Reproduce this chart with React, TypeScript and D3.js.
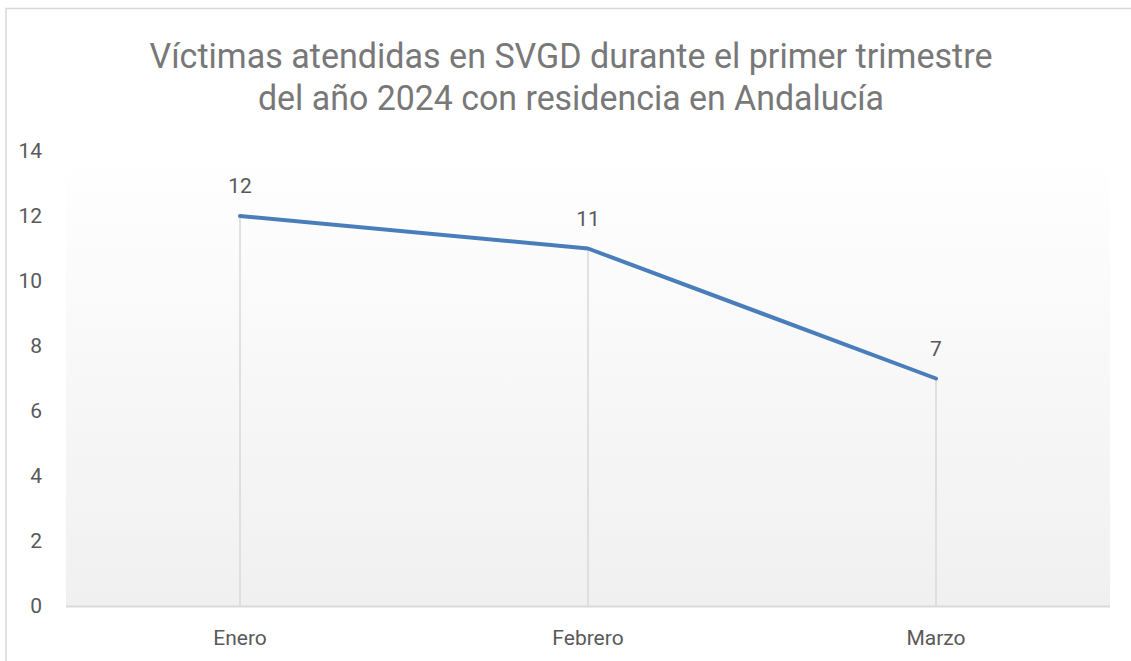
import React from "react";
import * as d3 from "d3";

const categories = ["Enero", "Febrero", "Marzo"];
const values = [12, 11, 7];
const yTicks = [0, 2, 4, 6, 8, 10, 12, 14];
const titleLines = [
  "Víctimas atendidas en SVGD durante el primer trimestre",
  "del año 2024 con residencia en Andalucía",
];
const titleWidths = [843, 626];

export default function App() {
  const W = 1131;
  const H = 661;
  const left = 66, right = 1110, top = 151, bottom = 606;
  const x = d3.scaleBand<string>().domain(categories).range([left, right]);
  const y = d3.scaleLinear().domain([0, 14]).range([bottom, top]);
  const cx = (c: string) => (x(c) as number) + x.bandwidth() / 2;
  const line = d3
    .line<number>()
    .x((_, i) => cx(categories[i]))
    .y((d) => y(d));
  const font = "Roboto, 'Noto Sans', sans-serif";
  return (
    <svg
      width={W}
      height={H}
      style={{ position: "absolute", left: 0, top: 0, background: "#fff" }}
    >
      <defs>
        <linearGradient id="bg" x1="0" y1="0" x2="0" y2="1">
          <stop offset="0" stopColor="#ffffff" />
          <stop offset="1" stopColor="#f0f0f0" />
        </linearGradient>
      </defs>
      <rect x={6} y={8.5} width={W + 20} height={H + 20} fill="#fff" stroke="#d9d9d9" strokeWidth={1.5} />
      <rect x={left} y={top} width={right - left} height={bottom - top} fill="url(#bg)" />
      {titleLines.map((t, i) => (
        <text
          key={i}
          x={571}
          y={68 + i * 42}
          textAnchor="middle"
          fontFamily={font}
          fontSize={35}
          fill="#787878"
          textLength={titleWidths[i]}
          lengthAdjust="spacingAndGlyphs"
        >
          {t}
        </text>
      ))}
      {categories.map((c, i) => (
        <line
          key={c}
          x1={cx(c)}
          x2={cx(c)}
          y1={y(values[i])}
          y2={bottom}
          stroke="#d9d9d9"
          strokeWidth={1.5}
        />
      ))}
      <line x1={left} x2={right} y1={bottom + 0.5} y2={bottom + 0.5} stroke="#d9d9d9" strokeWidth={2} />
      {yTicks.map((t) => (
        <text
          key={t}
          x={42}
          y={y(t)}
          dy="0.35em"
          textAnchor="end"
          fontFamily={font}
          fontSize={21}
          fill="#595959"
        >
          {t}
        </text>
      ))}
      {categories.map((c) => (
        <text
          key={c}
          x={cx(c)}
          y={638}
          dy="0.35em"
          textAnchor="middle"
          fontFamily={font}
          fontSize={21}
          fill="#595959"
        >
          {c}
        </text>
      ))}
      <path d={line(values) || ""} fill="none" stroke="#4a7ebb" strokeWidth={4} strokeLinecap="round" strokeLinejoin="round" />
      {categories.map((c, i) => (
        <text
          key={c}
          x={cx(c)}
          y={y(values[i]) - 30}
          dy="0.35em"
          textAnchor="middle"
          fontFamily={font}
          fontSize={21}
          fill="#595959"
        >
          {values[i]}
        </text>
      ))}
    </svg>
  );
}
